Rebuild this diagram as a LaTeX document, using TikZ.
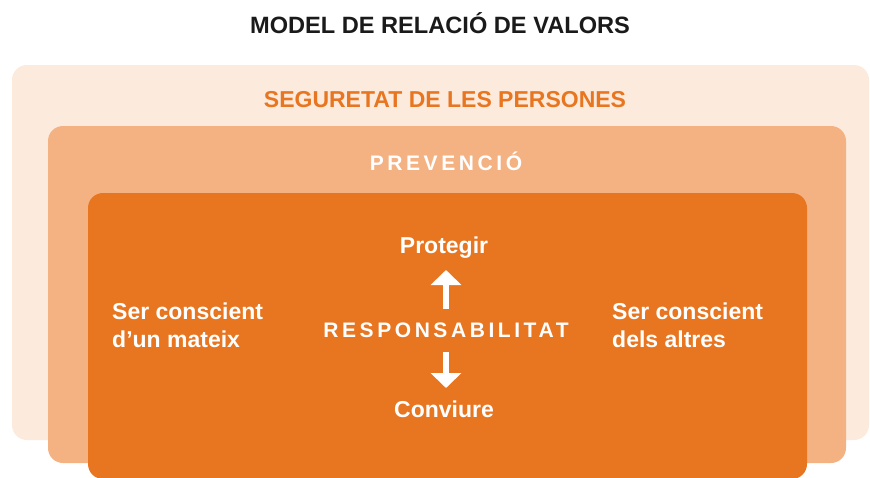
\documentclass[tikz,border=0pt]{standalone}
\usepackage{fontspec}
\setmainfont{Liberation Sans}
\usetikzlibrary{arrows.meta}
\definecolor{outerc}{HTML}{FCEADD}
\definecolor{midc}{HTML}{F4B283}
\definecolor{innerc}{HTML}{E8751F}
\definecolor{titlec}{HTML}{1A1A1A}
\tikzset{
  panel/.style={rounded corners=15pt, draw=none},
  lbl/.style={font=\bfseries\fontsize{23}{28}\selectfont, inner sep=0pt, anchor=base},
  spaced/.style={font=\bfseries\fontsize{21}{26}\selectfont\addfontfeature{LetterSpace=17}, inner sep=0pt, anchor=base},
  bigarrow/.style={white, line width=6.7pt, -{Triangle[width=30pt,length=15pt]}},
}
\begin{document}
\begin{tikzpicture}[x=1pt,y=-1pt]
\useasboundingbox (0,0) rectangle (870,477);
\fill[white] (0,0) rectangle (870,477);
\fill[panel, outerc] (12,65) rectangle (869,440);
\fill[panel, midc] (48,126) rectangle (846,463);
\fill[panel, innerc] (88,193) rectangle (807,479);
\node[lbl, titlec, font=\bfseries\fontsize{23.6}{28}\selectfont] (title) at (440,33) {MODEL DE RELACIÓ DE VALORS};
\node[lbl, innerc] (seg) at (445,107) {SEGURETAT DE LES PERSONES};
\node[spaced, white] (prev) at (446,170) {PREVENCIÓ};
\node[lbl, white] (prot) at (444,253) {Protegir};
\node[spaced, white] (resp) at (446,337) {RESPONSABILITAT};
\node[lbl, white] (conv) at (444,417) {Conviure};
\node[lbl, white, align=left, anchor=base west] (left) at (112,347) {Ser conscient\\d’un mateix};
\node[lbl, white, align=left, anchor=base west] (right) at (612,347) {Ser conscient\\dels altres};
\coordinate (u1) at (446,309);
\coordinate (u2) at (446,270);
\coordinate (d1) at (446,352);
\coordinate (d2) at (446,388);
\draw[bigarrow] (u1) -- (u2);
\draw[bigarrow] (d1) -- (d2);
\end{tikzpicture}
\end{document}
